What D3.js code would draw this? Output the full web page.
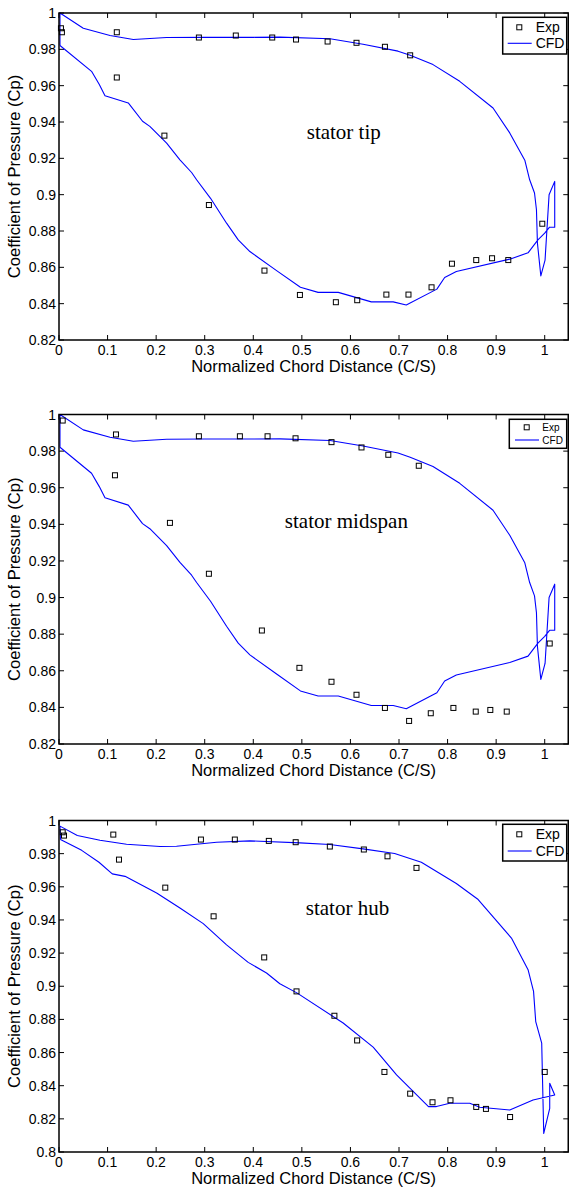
<!DOCTYPE html>
<html><head><meta charset="utf-8">
<script src="https://cdn.jsdelivr.net/npm/d3@7"></script>
<style>body{margin:0;background:#fff}svg{display:block}</style>
</head><body>
<script>
// ---------- data ----------
const xTicks = [0,0.1,0.2,0.3,0.4,0.5,0.6,0.7,0.8,0.9,1];
const xTickLabels = ["0","0.1","0.2","0.3","0.4","0.5","0.6","0.7","0.8","0.9","1"];
const yTicksTipMid = [0.82,0.84,0.86,0.88,0.9,0.92,0.94,0.96,0.98,1];
const yTickLabelsTipMid = ["0.82","0.84","0.86","0.88","0.9","0.92","0.94","0.96","0.98","1"];
const yTicksHub = [0.8,0.82,0.84,0.86,0.88,0.9,0.92,0.94,0.96,0.98,1];
const yTickLabelsHub = ["0.8","0.82","0.84","0.86","0.88","0.9","0.92","0.94","0.96","0.98","1"];
const panelTitles = ["stator tip","stator midspan","stator hub"];
const seriesNames = ["Exp","CFD"];

// stator tip experiment
const tipExpX = [0.004,0.006,0.119,0.119,0.217,0.288,0.364,0.439,0.488,0.553,0.6125,0.671,0.723,0.3086,0.423,0.496,0.570,0.614,0.674,0.7195,0.767,0.809,0.859,0.8916,0.925,0.995];
const tipExpY = [0.9916,0.9894,0.9894,0.9645,0.9325,0.9865,0.9876,0.9865,0.9854,0.9843,0.9836,0.9814,0.9767,0.8943,0.8582,0.8448,0.8408,0.8419,0.845,0.845,0.849,0.862,0.864,0.865,0.864,0.884];

// CFD (tip and midspan share the same curve)
const tipMidCfdX = [0.002,0.002,0.05,0.105,0.153,0.2215,0.30,0.40,0.455,0.558,0.626,0.698,0.723,0.770,0.825,0.8936,0.928,0.959,0.969,0.979,0.983,0.985,0.992,1.0007,1.009,1.0206,1.0206,1.01,1.0,0.986,0.9657,0.928,0.818,0.794,0.778,0.715,0.688,0.643,0.575,0.5335,0.497,0.448,0.393,0.369,0.345,0.312,0.2833,0.273,0.249,0.2216,0.187,0.172,0.1426,0.0947,0.083,0.067,0.002];
const tipMidCfdY = [0.9821,1.0,0.9916,0.9876,0.9854,0.9865,0.9866,0.9866,0.9867,0.9858,0.9828,0.979,0.9767,0.9716,0.9624,0.9477,0.934,0.919,0.9082,0.9009,0.8917,0.8733,0.8553,0.864,0.9,0.9073,0.8821,0.8821,0.8788,0.8751,0.868,0.8645,0.8577,0.8544,0.848,0.8393,0.841,0.841,0.8462,0.8462,0.849,0.8582,0.8687,0.8751,0.8843,0.898,0.9082,0.9122,0.9192,0.9284,0.9376,0.9404,0.9505,0.9545,0.9606,0.9679,0.9821];

// stator midspan experiment
const midExpX = [0.0076,0.1173,0.1152,0.2284,0.288,0.3724,0.4294,0.487,0.561,0.6228,0.678,0.7407,0.3086,0.4177,0.495,0.561,0.6125,0.671,0.7208,0.7654,0.812,0.858,0.888,0.9218,1.0103];
const midExpY = [0.9967,0.9891,0.9668,0.9408,0.9881,0.9881,0.9881,0.987,0.9849,0.982,0.978,0.972,0.913,0.882,0.8616,0.854,0.8469,0.8397,0.8326,0.8368,0.8397,0.8377,0.8386,0.8377,0.8749];

// stator hub experiment
const hubExpX = [0.0076,0.0103,0.1118,0.1235,0.2188,0.2922,0.362,0.432,0.4873,0.5576,0.6276,0.6763,0.736,0.3183,0.4225,0.489,0.567,0.6138,0.670,0.723,0.769,0.806,0.859,0.879,0.9287,1.0];
const hubExpY = [0.9929,0.9909,0.9915,0.9764,0.9595,0.9885,0.9885,0.9877,0.9869,0.9843,0.9825,0.9784,0.9714,0.9422,0.9174,0.8969,0.8822,0.8673,0.8483,0.8352,0.830,0.8312,0.8272,0.826,0.8211,0.8483];

// stator hub CFD
const hubCfdX = [0.003,0.002,0.0377,0.0844,0.139,0.208,0.242,0.3245,0.393,0.496,0.5576,0.626,0.691,0.746,0.818,0.863,0.9315,0.9657,0.977,0.9815,0.9938,0.998,1.0103,1.0103,1.0206,0.976,0.928,0.8663,0.8457,0.8045,0.777,0.7607,0.695,0.6468,0.585,0.4897,0.4547,0.4273,0.3895,0.345,0.297,0.249,0.201,0.136,0.1097,0.0823,0.0467,0.003];
const hubCfdY = [0.9885,0.9966,0.9909,0.9881,0.9857,0.9843,0.9845,0.9869,0.9877,0.9865,0.9855,0.9829,0.9801,0.9748,0.962,0.9523,0.9291,0.91,0.8969,0.8787,0.8657,0.8112,0.8263,0.8415,0.8344,0.8314,0.8253,0.827,0.8294,0.8294,0.8274,0.8274,0.8465,0.8633,0.8778,0.896,0.9015,0.908,0.9144,0.925,0.9378,0.9472,0.9563,0.9663,0.9678,0.9748,0.982,0.9885];

// ---------- layout ----------
const W = 569, H = 1191;
const panels = [
  {title: panelTitles[0], top: 13, bottom: 340, yDomain: [0.82,1], yTicks: yTicksTipMid, yLabels: yTickLabelsTipMid,
   expX: tipExpX, expY: tipExpY, cfdX: tipMidCfdX, cfdY: tipMidCfdY,
   ann: {x: 0.51, y: 0.9307},
   leg: {x: 502.7, y: 17.3, w: 64, h: 36.7, font: 14, mdx: 16.6, r1: 10, r2: 26, l0: 5, l1: 29, tdx: 33}},
  {title: panelTitles[1], top: 414.5, bottom: 744, yDomain: [0.82,1], yTicks: yTicksTipMid, yLabels: yTickLabelsTipMid,
   expX: midExpX, expY: midExpY, cfdX: tipMidCfdX, cfdY: tipMidCfdY,
   ann: {x: 0.465, y: 0.938},
   leg: {x: 509.3, y: 419.3, w: 57.4, h: 29, font: 10, mdx: 17.4, r1: 8, r2: 20.7, l0: 5.7, l1: 29.7, tdx: 33}},
  {title: panelTitles[2], top: 820.5, bottom: 1152, yDomain: [0.8,1], yTicks: yTicksHub, yLabels: yTickLabelsHub,
   expX: hubExpX, expY: hubExpY, cfdX: hubCfdX, cfdY: hubCfdY,
   ann: {x: 0.508, y: 0.9428},
   leg: {x: 502.7, y: 824.3, w: 64, h: 36.7, font: 14, mdx: 16.6, r1: 10, r2: 26.7, l0: 5, l1: 29, tdx: 33}}
];

const svg = d3.select("body").append("svg").attr("width", W).attr("height", H);
const sans = "Arial, 'Liberation Sans', Helvetica, sans-serif";
const serif = "'Times New Roman', 'Liberation Serif', serif";

const x = d3.scaleLinear().domain([0, 1.05]).range([59, 569]);

panels.forEach(p => {
  const y = d3.scaleLinear().domain(p.yDomain).range([p.bottom, p.top]);
  const g = svg.append("g");
  const right = x(1.05) - 0.75;

  // ticks (inward on all sides)
  const tl = 5;
  xTicks.forEach(t => {
    g.append("line").attr("x1", x(t)).attr("x2", x(t)).attr("y1", p.bottom).attr("y2", p.bottom - tl).attr("stroke", "#000");
    g.append("line").attr("x1", x(t)).attr("x2", x(t)).attr("y1", p.top).attr("y2", p.top + tl).attr("stroke", "#000");
  });
  p.yTicks.forEach(t => {
    g.append("line").attr("x1", x(0)).attr("x2", x(0) + tl).attr("y1", y(t)).attr("y2", y(t)).attr("stroke", "#000");
    g.append("line").attr("x1", right).attr("x2", right - tl).attr("y1", y(t)).attr("y2", y(t)).attr("stroke", "#000");
  });

  // tick labels
  g.selectAll(".xl").data(xTicks).enter().append("text")
    .attr("x", d => x(d)).attr("y", p.bottom + 14.5).attr("text-anchor", "middle")
    .attr("font-family", sans).attr("font-size", 14).attr("fill", "#000")
    .text((d, i) => xTickLabels[i]);
  g.selectAll(".yl").data(p.yTicks).enter().append("text")
    .attr("x", x(0) - 3).attr("y", d => y(d)).attr("dy", "0.36em").attr("text-anchor", "end")
    .attr("font-family", sans).attr("font-size", 14).attr("fill", "#000")
    .text((d, i) => p.yLabels[i]);

  // axis titles
  g.append("text").attr("x", (x(0) + right) / 2).attr("y", p.bottom + 32).attr("text-anchor", "middle")
    .attr("font-family", sans).attr("font-size", 16.5).text("Normalized Chord Distance (C/S)");
  g.append("text").attr("transform", `translate(20,${(p.top + p.bottom) / 2}) rotate(-90)`).attr("text-anchor", "middle")
    .attr("font-family", sans).attr("font-size", 16.5).text("Coefficient of Pressure (Cp)");

  // CFD line
  const pts = p.cfdX.map((v, i) => [v, p.cfdY[i]]);
  g.append("path").attr("d", d3.line().x(d => x(d[0])).y(d => y(d[1]))(pts))
    .attr("fill", "none").attr("stroke", "#0000ff").attr("stroke-width", 1.1).attr("stroke-linejoin", "round");

  // Exp markers
  const ms = 5;
  g.selectAll(".m").data(p.expX.map((v, i) => [v, p.expY[i]])).enter().append("rect")
    .attr("x", d => x(d[0]) - ms / 2).attr("y", d => y(d[1]) - ms / 2).attr("width", ms).attr("height", ms)
    .attr("fill", "none").attr("stroke", "#000").attr("stroke-width", 1);

  // annotation
  g.append("text").attr("x", x(p.ann.x)).attr("y", y(p.ann.y))
    .attr("font-family", serif).attr("font-size", 21).attr("fill", "#000").text(p.title);

  // axes box
  g.append("rect").attr("x", x(0)).attr("y", p.top).attr("width", right - x(0)).attr("height", p.bottom - p.top)
    .attr("fill", "none").attr("stroke", "#000").attr("stroke-width", 1.5);

  // legend
  const L = p.leg;
  const lg = g.append("g");
  lg.append("rect").attr("x", L.x).attr("y", L.y).attr("width", L.w).attr("height", L.h)
    .attr("fill", "#fff").attr("stroke", "#000").attr("stroke-width", 1.5);
  lg.append("rect").attr("x", L.x + L.mdx - ms / 2).attr("y", L.y + L.r1 - ms / 2).attr("width", ms).attr("height", ms)
    .attr("fill", "none").attr("stroke", "#000");
  lg.append("line").attr("x1", L.x + L.l0).attr("x2", L.x + L.l1).attr("y1", L.y + L.r2).attr("y2", L.y + L.r2)
    .attr("stroke", "#0000ff").attr("stroke-width", 1.1);
  lg.append("text").attr("x", L.x + L.tdx).attr("y", L.y + L.r1).attr("dy", "0.36em")
    .attr("font-family", sans).attr("font-size", L.font).text(seriesNames[0]);
  lg.append("text").attr("x", L.x + L.tdx).attr("y", L.y + L.r2).attr("dy", "0.36em")
    .attr("font-family", sans).attr("font-size", L.font).text(seriesNames[1]);
});
</script>
</body></html>
